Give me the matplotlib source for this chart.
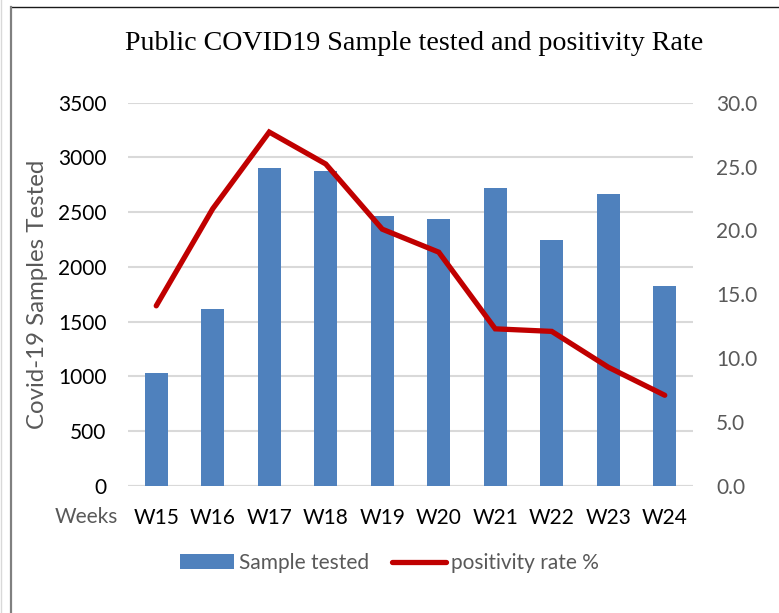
import matplotlib
matplotlib.use("Agg")
import matplotlib.pyplot as plt
from matplotlib.lines import Line2D
import numpy as np

weeks = ["W15", "W16", "W17", "W18", "W19", "W20", "W21", "W22", "W23", "W24"]
samples_tested = [1035, 1613, 2900, 2875, 2461, 2439, 2720, 2244, 2668, 1829]
positivity_rate = [14.1, 21.7, 27.7, 25.2, 20.1, 18.3, 12.3, 12.1, 9.3, 7.1]

BAR_COLOR = "#4f81bd"
LINE_COLOR = "#c00000"
GRID_COLOR = "#d9d9d9"
GRAY_TEXT = "#595959"
FONT = ["Lato", "DejaVu Sans"]

plt.rcParams["font.family"] = FONT

W, H = 779, 613
fig = plt.figure(figsize=(W / 100, H / 100), dpi=100)
ax = fig.add_axes([0.1643, 0.2072, 0.7253, 0.6253])
ax2 = ax.twinx()

x = np.arange(len(weeks))
bars = ax.bar(x, samples_tested, width=0.41, color=BAR_COLOR, zorder=2,
              label="Sample tested")
line, = ax2.plot(x, positivity_rate, color=LINE_COLOR, lw=3.8,
                 solid_capstyle="round", solid_joinstyle="miter", zorder=3,
                 label="positivity rate %")

ax.set_xlim(-0.5, len(weeks) - 0.5)
ax.set_ylim(0, 3500)
ax.set_yticks(np.arange(0, 3501, 500))
ax2.set_ylim(0, 30)
ax2.set_yticks(np.arange(0, 30.1, 5))
ax2.set_yticklabels([f"{v:.1f}" for v in np.arange(0, 30.1, 5)])

ax.grid(axis="y", color=GRID_COLOR, lw=1.5, zorder=0)
ax.set_axisbelow(True)
for a in (ax, ax2):
    for s in a.spines.values():
        s.set_visible(False)
ax.axhline(0, color=GRID_COLOR, lw=1.5, zorder=1)

ax.tick_params(axis="both", length=0, labelsize=15, colors="black")
ax.tick_params(axis="y", pad=15.5)
ax.tick_params(axis="x", pad=16)
ax.set_xticks(x)
ax.set_xticklabels(weeks)
ax2.tick_params(axis="y", length=0, labelsize=15, labelcolor=GRAY_TEXT, pad=16.5)

ax.set_ylabel("Covid-19 Samples Tested", fontsize=17.3, color=GRAY_TEXT, labelpad=7)
fig.text(86 / W, 1 - 517 / H, "Weeks", fontsize=15, color=GRAY_TEXT,
         ha="center", va="center")

fig.text(414 / W, 1 - 44 / H, "Public COVID19 Sample tested and positivity Rate",
         fontsize=20.2, family=["Liberation Serif", "DejaVu Serif"],
         ha="center", va="center", color="black")

leg = fig.legend(handles=[bars, line], loc="center", bbox_to_anchor=(0.5, 1 - 563 / H),
                 ncol=2, frameon=False, fontsize=15, handlelength=2.6,
                 handletextpad=0.25, columnspacing=1.1)
for t in leg.get_texts():
    t.set_color(GRAY_TEXT)

# chart frame edges visible in the reference
fig.add_artist(Line2D([11 / W, 1], [1 - 7 / H, 1 - 7 / H], transform=fig.transFigure,
                      color="#1a1a1a", lw=1.0))
fig.add_artist(Line2D([11 / W, 11 / W], [0, 1 - 7 / H], transform=fig.transFigure,
                      color="#808080", lw=1.6))
fig.add_artist(Line2D([0.5 / W, 0.5 / W], [0, 1], transform=fig.transFigure,
                      color="#d9d9d9", lw=1.0))

fig.savefig("out.png", dpi=100)
